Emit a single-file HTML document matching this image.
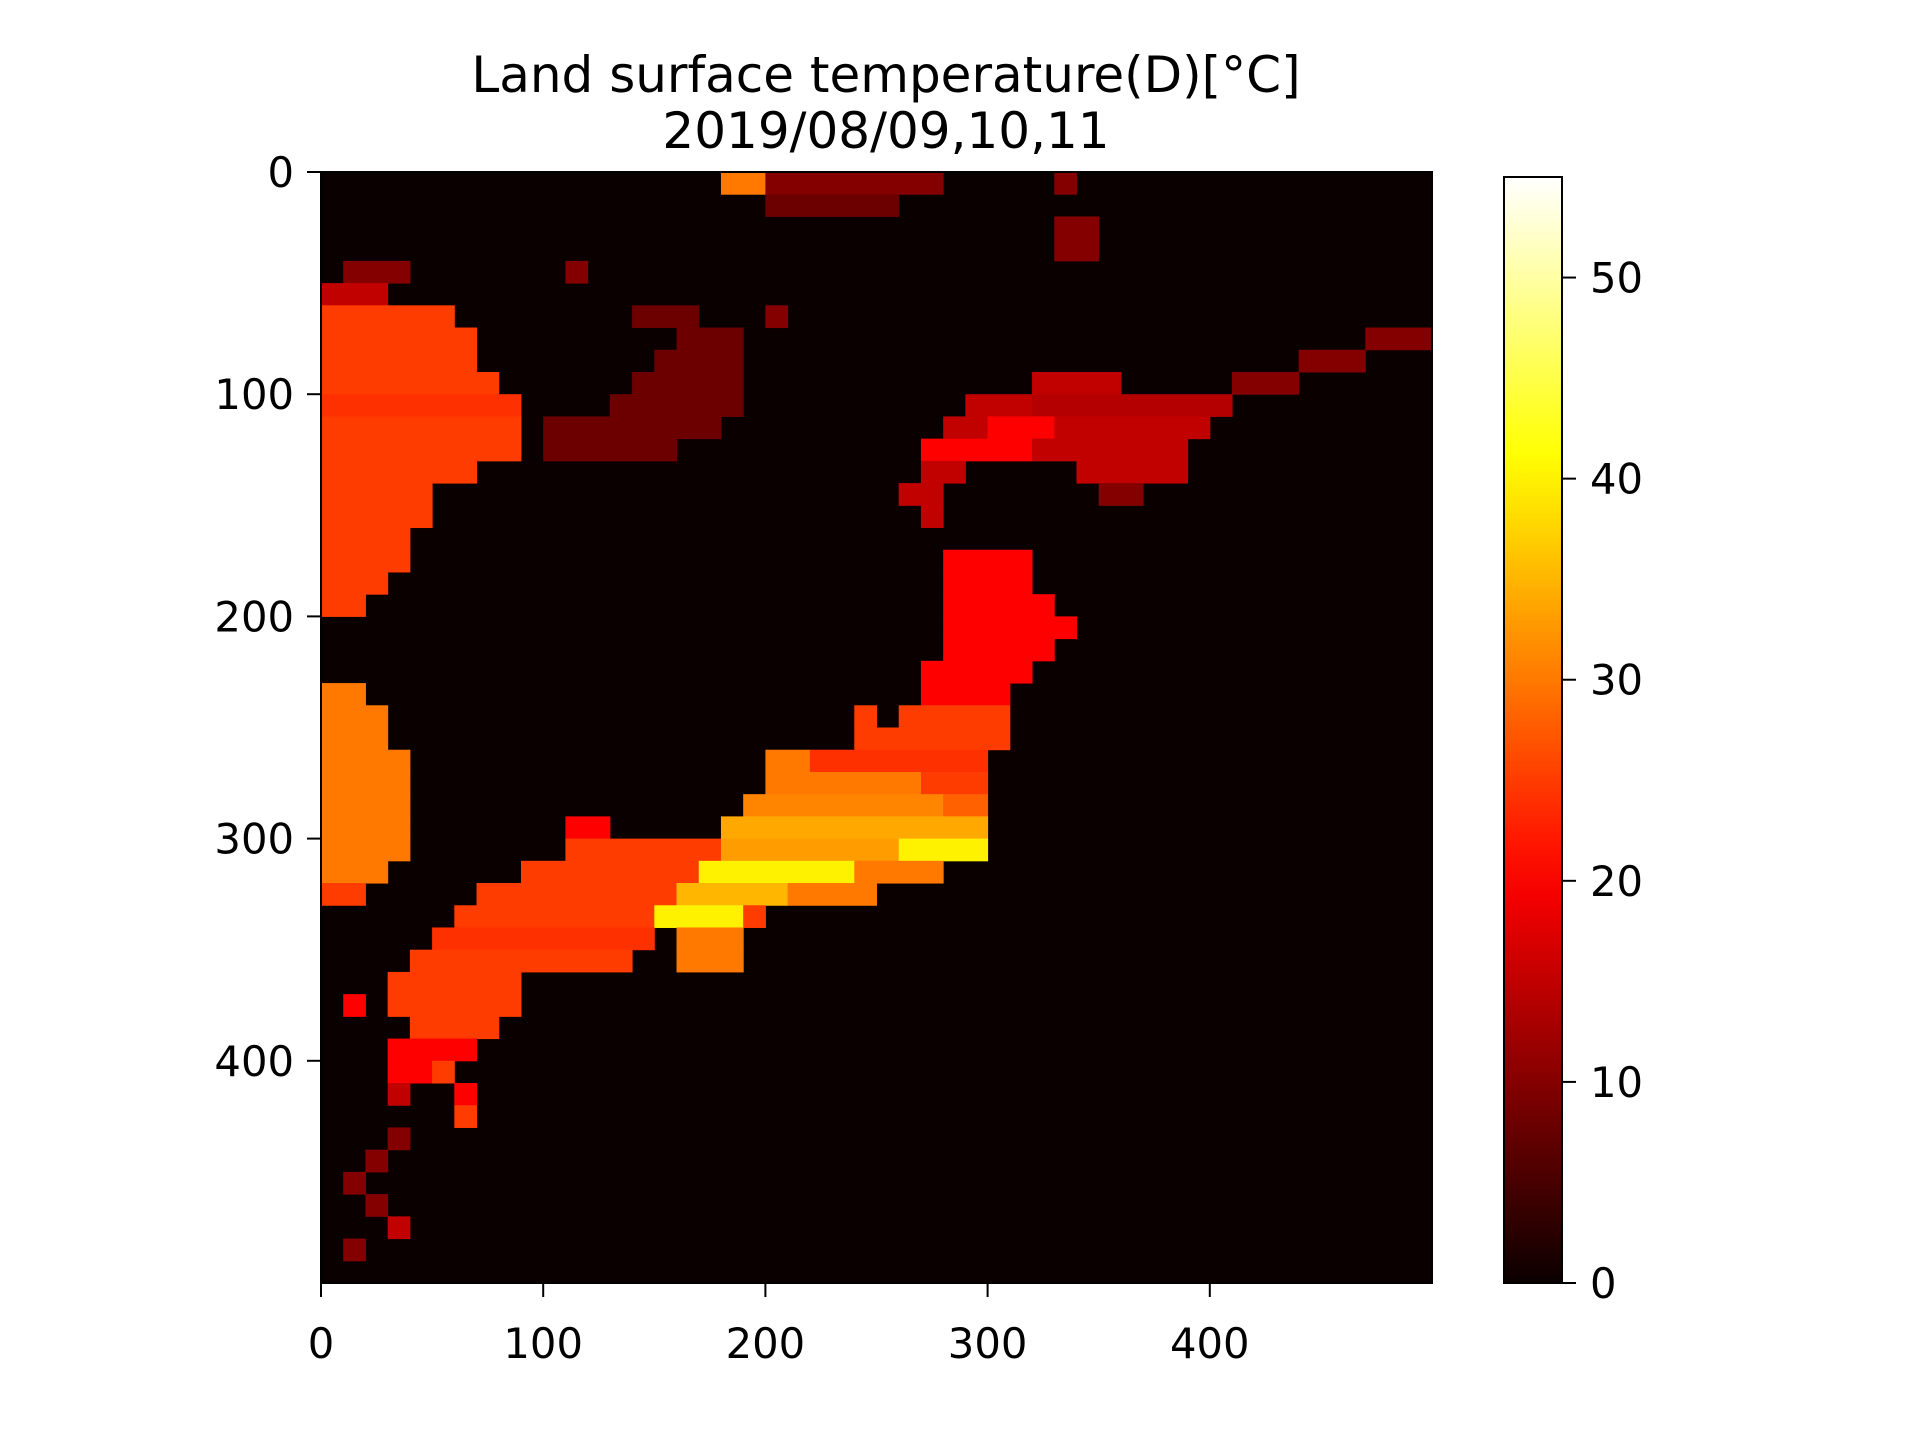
<!DOCTYPE html>
<html><head><meta charset="utf-8"><style>
html,body{margin:0;padding:0;background:#fff;}
svg text{font-family:"DejaVu Sans","Liberation Sans",sans-serif;fill:#000;}
</style></head><body>
<svg id="chart" width="1920" height="1440" viewBox="0 0 1920 1440" xmlns="http://www.w3.org/2000/svg">
<defs><linearGradient id="hotgrad" x1="0" y1="1" x2="0" y2="0"></linearGradient></defs>
<text x="886" y="92" font-size="50" text-anchor="middle">Land surface temperature(D)[°C]</text>
<text x="886" y="148" font-size="50" text-anchor="middle">2019/08/09,10,11</text>
<g id="heat"></g>
<rect x="321" y="172" width="1111" height="1111" fill="none" stroke="#000" stroke-width="2"/>
<g id="xaxis"></g>
<g id="yaxis"></g>
<rect x="1504" y="177" width="58" height="1106" fill="url(#hotgrad)" stroke="#000" stroke-width="2"/>
<g id="cbaxis"></g>
</svg>
<script>
const xTicks=[0,100,200,300,400];
const yTicks=[0,100,200,300,400];
const cbTicks=[0,10,20,30,40,50];
const vmax=55;
// land segments on a 10x10-unit grid: row, start column, end column, temperature °C
const segRows=[0,0,0, 1, 2, 3, 4,4, 5, 6,6,6, 7,7,7, 8,8,8, 9,9,9,9, 10,10,10,10, 11,11,11,11,11, 12,12,12,12, 13,13,13, 14,14,14, 15,15, 16, 17,17, 18,18, 19,19, 20, 21, 22, 23,23, 24,24,24, 25,25, 26,26,26, 27,27,27, 28,28,28, 29,29,29, 30,30,30,30, 31,31,31,31, 32,32,32,32, 33,33,33, 34,34, 35,35, 36, 37,37, 38, 39, 40,40, 41,41, 42, 43, 44, 45, 46, 47, 48];
const segStart=[18,20,33, 20, 33, 33, 1,11, 0, 0,14,20, 0,16,47, 0,15,44, 0,14,32,41, 0,13,29,32, 0,10,28,30,33, 0,10,27,32, 0,27,34, 0,26,35, 0,27, 0, 0,28, 0,28, 0,28, 28, 28, 27, 0,27, 0,24,26, 0,24, 0,20,22, 0,20,27, 0,19,28, 0,11,18, 0,11,18,26, 0,9,17,24, 0,7,16,21, 6,15,19, 5,16, 4,16, 3, 1,3, 4, 3, 3,5, 3,6, 6, 3, 2, 1, 2, 3, 1];
const segEnd=[19,27,33, 25, 34, 34, 3,11, 2, 5,16,20, 6,18,49, 6,18,46, 7,18,35,43, 8,18,31,40, 8,17,29,32,39, 8,15,31,38, 6,28,38, 4,27,36, 4,27, 3, 3,31, 2,31, 1,32, 33, 32, 31, 1,30, 2,24,30, 2,30, 3,21,29, 3,26,29, 3,27,29, 3,12,29, 3,17,25,29, 2,16,23,27, 1,15,20,24, 14,18,19, 14,18, 13,18, 8, 1,8, 7, 6, 4,5, 3,6, 6, 3, 2, 1, 2, 3, 1];
const segVal=[30,10,10, 8, 10, 10, 10,10, 15, 25,8,10, 25,8,10, 25,8,10, 25,8,15,10, 24,8,15,14, 25,8,15,20,15, 25,8,20,15, 25,15,15, 25,15,10, 25,15, 25, 25,20, 25,20, 25,20, 20, 20, 20, 30,20, 30,25,25, 30,25, 30,30,24, 30,30,25, 30,31,28, 30,20,34, 30,25,33,40, 30,25,40,30, 25,25,35,30, 25,40,25, 24,30, 25,30, 25, 20,25, 25, 20, 20,25, 15,20, 25, 10, 10, 10, 10, 15, 10];

const NS='http://www.w3.org/2000/svg';
const X0=321,Y0=172,S=1111/500;
const xs=v=>X0+v*S, ys=v=>Y0+v*S;
const cbY=v=>1283-v*(1106/vmax);
function hot(v){const t=Math.max(0,Math.min(1,v/vmax));
 const r=Math.min(1,0.0416+t/0.365*(1-0.0416)),g=Math.max(0,Math.min(1,(t-0.365)/0.381)),b=Math.max(0,Math.min(1,(t-0.746)/0.254));
 return `rgb(${Math.round(r*255)},${Math.round(g*255)},${Math.round(b*255)})`;}
function mk(tag,attrs,parent){const e=document.createElementNS(NS,tag);for(const k in attrs)e.setAttribute(k,attrs[k]);parent.appendChild(e);return e;}
const heat=document.getElementById('heat');
const bg=mk('rect',{x:X0,y:Y0,width:1111,height:1111,fill:hot(0)},heat);


for(let i=0;i<segRows.length;i++){
 const c=mk('rect',{x:xs(segStart[i]*10),y:ys(segRows[i]*10),width:(segEnd[i]-segStart[i]+1)*10*S+0.5,height:10*S+0.5,fill:hot(segVal[i])},heat);
 
 
}
const xa=document.getElementById('xaxis');
xTicks.forEach(v=>{
 const l=mk('line',{x1:xs(v),x2:xs(v),y1:1283,y2:1297,stroke:'#000','stroke-width':2},xa);
 
 
 const t=mk('text',{x:xs(v),y:1358,'font-size':41.7,'text-anchor':'middle'},xa);t.textContent=v;
 
 
});
const ya=document.getElementById('yaxis');
yTicks.forEach(v=>{
 const l=mk('line',{x1:307,x2:321,y1:ys(v),y2:ys(v),stroke:'#000','stroke-width':2},ya);
 
 
 const t=mk('text',{x:294,y:ys(v)+15,'font-size':41.7,'text-anchor':'end'},ya);t.textContent=v;
 
 
});
const grad=document.getElementById('hotgrad');
for(let i=0;i<=20;i++){mk('stop',{offset:(i/20),'stop-color':hot(i/20*vmax)},grad);}
const ca=document.getElementById('cbaxis');
cbTicks.forEach(v=>{
 const l=mk('line',{x1:1562,x2:1576,y1:cbY(v),y2:cbY(v),stroke:'#000','stroke-width':2},ca);
 
 
 const t=mk('text',{x:1590,y:cbY(v)+15,'font-size':41.7},ca);t.textContent=v;
 
 
});
</script>
</body></html>
